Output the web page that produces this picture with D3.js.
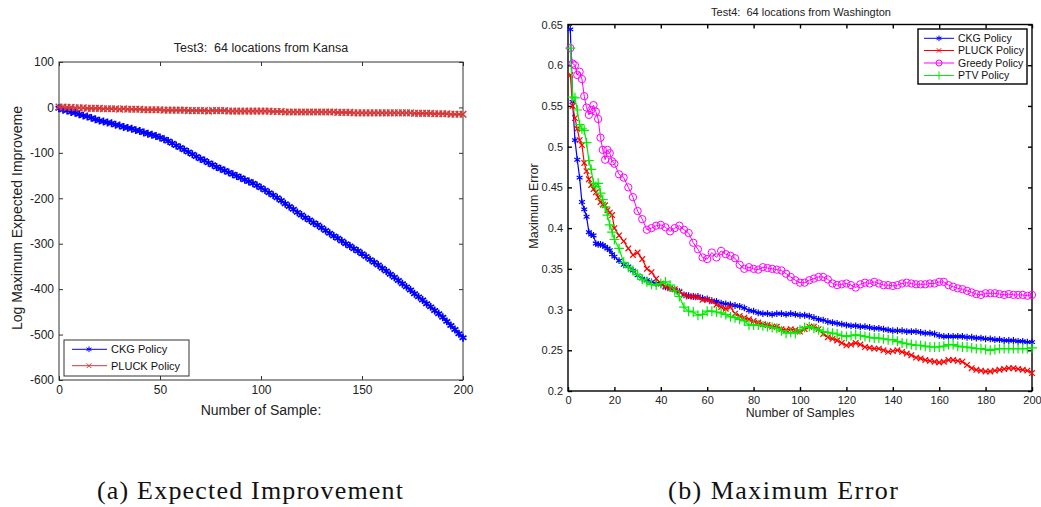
<!DOCTYPE html>
<html>
<head>
<meta charset="utf-8">
<script src="https://cdn.jsdelivr.net/npm/d3@7"></script>
<style>
  body { margin: 0; background: #fff; }
  svg { display: block; font-family: "Liberation Sans", Arial, sans-serif; }
</style>
</head>
<body>
<div id="chart"></div>
<script>
// (a) Test3: log maximum expected improvement, every 2nd sample
const leftSamples = d3.range(0, 201, 2);
const ckgLeft = [
  -2, -5, -7, -10, -12, -15, -18, -20, -23, -26,
  -29, -31, -33, -35, -38, -40, -43, -45, -47, -50,
  -52, -55, -58, -60, -63, -66, -70, -74, -79, -84,
  -88, -93, -98, -103, -108, -113, -117, -122, -126, -131,
  -135, -139, -143, -147, -151, -155, -159, -163, -167, -172,
  -177, -182, -188, -193, -199, -205, -212, -218, -224, -231,
  -237, -243, -248, -254, -259, -265, -271, -277, -283, -288,
  -294, -300, -305, -311, -316, -322, -328, -335, -341, -347,
  -354, -360, -367, -374, -381, -388, -395, -402, -410, -417,
  -424, -432, -439, -447, -454, -462, -471, -480, -489, -498,
  -507];
const pluckLeft = [
  1, 1, 0, 0, -1, -1, -1, -2, -2, -2,
  -2, -3, -3, -3, -3, -4, -3, -4, -4, -4,
  -4, -5, -5, -5, -5, -5, -6, -6, -6, -6,
  -6, -6, -7, -7, -7, -7, -7, -8, -7, -7,
  -7, -7, -8, -8, -8, -8, -8, -8, -8, -8,
  -8, -8, -8, -9, -9, -9, -10, -10, -10, -10,
  -10, -10, -10, -10, -10, -10, -10, -10, -10, -11,
  -11, -11, -11, -12, -12, -12, -12, -12, -12, -12,
  -12, -12, -12, -12, -12, -12, -12, -12, -13, -13,
  -13, -13, -13, -14, -14, -14, -14, -15, -15, -15,
  -15];

// (b) Test4: maximum error, samples 1..20 then every 2nd
const rightSamples = d3.range(1, 21).concat(d3.range(22, 201, 2));
const ckgRight = [
  0.644, 0.555, 0.508, 0.484, 0.462, 0.432, 0.423, 0.414, 0.395, 0.392,
  0.391, 0.381, 0.380, 0.380, 0.379, 0.377, 0.375, 0.373, 0.368, 0.365,
  0.360, 0.355, 0.353, 0.348, 0.342, 0.338, 0.336, 0.334, 0.332, 0.331,
  0.328, 0.326, 0.324, 0.322, 0.318, 0.317, 0.316, 0.316, 0.314, 0.313,
  0.311, 0.310, 0.308, 0.307, 0.306, 0.305, 0.304, 0.302, 0.299, 0.298,
  0.296, 0.295, 0.295, 0.294, 0.295, 0.295, 0.294, 0.295, 0.294, 0.293,
  0.293, 0.292, 0.290, 0.288, 0.287, 0.285, 0.284, 0.283, 0.282, 0.281,
  0.280, 0.280, 0.279, 0.279, 0.278, 0.277, 0.277, 0.276, 0.275, 0.274,
  0.274, 0.274, 0.273, 0.273, 0.273, 0.272, 0.271, 0.271, 0.270, 0.268,
  0.267, 0.267, 0.267, 0.267, 0.267, 0.266, 0.266, 0.265, 0.265, 0.264,
  0.264, 0.263, 0.263, 0.262, 0.262, 0.262, 0.261, 0.261, 0.260, 0.260];
const pluckRight = [
  0.588, 0.550, 0.535, 0.522, 0.508, 0.502, 0.480, 0.470, 0.460, 0.453,
  0.448, 0.444, 0.438, 0.432, 0.429, 0.428, 0.422, 0.419, 0.416, 0.400,
  0.391, 0.384, 0.375, 0.367, 0.370, 0.362, 0.350, 0.346, 0.338, 0.332,
  0.328, 0.326, 0.325, 0.322, 0.318, 0.316, 0.316, 0.315, 0.312, 0.312,
  0.310, 0.306, 0.303, 0.301, 0.303, 0.295, 0.292, 0.290, 0.288, 0.286,
  0.284, 0.282, 0.281, 0.279, 0.279, 0.276, 0.275, 0.276, 0.275, 0.273,
  0.276, 0.279, 0.279, 0.276, 0.270, 0.266, 0.264, 0.262, 0.259, 0.256,
  0.257, 0.259, 0.257, 0.254, 0.253, 0.252, 0.252, 0.250, 0.248, 0.249,
  0.250, 0.248, 0.246, 0.244, 0.241, 0.240, 0.238, 0.237, 0.236, 0.235,
  0.236, 0.238, 0.238, 0.237, 0.236, 0.232, 0.228, 0.226, 0.225, 0.224,
  0.224, 0.225, 0.226, 0.227, 0.228, 0.228, 0.227, 0.226, 0.225, 0.222];
const greedyRight = [
  0.621, 0.602, 0.600, 0.588, 0.592, 0.583, 0.562, 0.548, 0.539, 0.545,
  0.551, 0.543, 0.534, 0.511, 0.496, 0.484, 0.496, 0.492, 0.482, 0.479,
  0.466, 0.462, 0.450, 0.438, 0.421, 0.411, 0.398, 0.400, 0.403, 0.404,
  0.401, 0.396, 0.400, 0.403, 0.398, 0.394, 0.382, 0.374, 0.364, 0.362,
  0.370, 0.364, 0.372, 0.368, 0.366, 0.363, 0.355, 0.350, 0.352, 0.350,
  0.349, 0.352, 0.351, 0.350, 0.349, 0.348, 0.344, 0.340, 0.336, 0.333,
  0.333, 0.336, 0.338, 0.340, 0.340, 0.337, 0.332, 0.330, 0.331, 0.332,
  0.330, 0.327, 0.331, 0.333, 0.332, 0.334, 0.332, 0.330, 0.330, 0.329,
  0.330, 0.332, 0.333, 0.332, 0.331, 0.331, 0.331, 0.332, 0.332, 0.334,
  0.334, 0.330, 0.328, 0.326, 0.325, 0.323, 0.321, 0.319, 0.318, 0.320,
  0.320, 0.320, 0.319, 0.318, 0.319, 0.318, 0.318, 0.318, 0.317, 0.318];
const ptvRight = [
  0.621, 0.561, 0.560, 0.545, 0.527, 0.522, 0.520, 0.505, 0.483, 0.472,
  0.455, 0.451, 0.455, 0.443, 0.435, 0.426, 0.416, 0.404, 0.395, 0.386,
  0.375, 0.358, 0.352, 0.348, 0.343, 0.337, 0.334, 0.331, 0.330, 0.332,
  0.334, 0.330, 0.323, 0.316, 0.303, 0.298, 0.297, 0.293, 0.294, 0.298,
  0.298, 0.297, 0.296, 0.294, 0.291, 0.290, 0.288, 0.286, 0.281, 0.281,
  0.281, 0.280, 0.279, 0.278, 0.277, 0.274, 0.271, 0.272, 0.271, 0.275,
  0.278, 0.279, 0.277, 0.275, 0.273, 0.272, 0.271, 0.270, 0.268, 0.267,
  0.268, 0.269, 0.268, 0.267, 0.266, 0.265, 0.265, 0.264, 0.263, 0.263,
  0.261, 0.259, 0.258, 0.257, 0.256, 0.256, 0.255, 0.254, 0.254, 0.254,
  0.255, 0.257, 0.257, 0.255, 0.254, 0.254, 0.253, 0.252, 0.252, 0.251,
  0.250, 0.251, 0.252, 0.252, 0.252, 0.252, 0.252, 0.252, 0.252, 0.253];

const leftXTicks = [0, 50, 100, 150, 200];
const leftYTicks = [-600, -500, -400, -300, -200, -100, 0, 100];
const rightXTicks = [0, 20, 40, 60, 80, 100, 120, 140, 160, 180, 200];
const rightYTicks = [0.2, 0.25, 0.3, 0.35, 0.4, 0.45, 0.5, 0.55, 0.6, 0.65];

const svg = d3.select("#chart").append("svg")
  .attr("width", 1041)
  .attr("height", 507);

const xL = d3.scaleLinear().domain([0, 200]).range([59, 463]);
const yL = d3.scaleLinear().domain([-600, 100]).range([380, 62]);
const xR = d3.scaleLinear().domain([0, 200]).range([568, 1032]);
const yR = d3.scaleLinear().domain([0.2, 0.65]).range([391, 24.5]);

const symbols = { asterisk: d3.symbolAsterisk, x: d3.symbolX, circle: d3.symbolCircle, plus: d3.symbolPlus };
const font = "'Liberation Sans', Arial, sans-serif";

function drawAxes(x, y, xTicks, yTicks, fmtY, fontSize, stroke, lw) {
  const [x0, x1] = x.range(), [y0, y1] = y.range();
  const g = svg.append("g");
  g.append("g").attr("transform", `translate(0,${y0})`)
    .call(d3.axisBottom(x).tickValues(xTicks).tickSize(-4).tickPadding(5).tickFormat(d => String(d)));
  g.append("g").attr("transform", `translate(0,${y1})`)
    .call(d3.axisTop(x).tickValues(xTicks).tickSize(-4).tickFormat(""));
  g.append("g").attr("transform", `translate(${x0},0)`)
    .call(d3.axisLeft(y).tickValues(yTicks).tickSize(-4).tickPadding(5).tickFormat(fmtY));
  g.append("g").attr("transform", `translate(${x1},0)`)
    .call(d3.axisRight(y).tickValues(yTicks).tickSize(-4).tickFormat(""));
  g.selectAll("g").attr("font-family", font).attr("font-size", fontSize);
  g.selectAll(".domain").remove();
  g.selectAll(".tick line").attr("stroke", stroke).attr("stroke-width", lw);
  g.selectAll(".tick text").attr("fill", "#222");
  g.append("rect")
    .attr("x", x0).attr("y", y1)
    .attr("width", x1 - x0).attr("height", y0 - y1)
    .attr("fill", "none").attr("stroke", stroke).attr("stroke-width", lw);
}

function drawSeries(x, y, samples, values, color, type, size, lw) {
  const pts = samples.map((s, i) => [s, values[i]]);
  svg.append("path").datum(pts)
    .attr("fill", "none").attr("stroke", color).attr("stroke-width", lw)
    .attr("d", d3.line().x(d => x(d[0])).y(d => y(d[1])));
  svg.append("g").selectAll("path").data(pts).join("path")
    .attr("transform", d => `translate(${x(d[0])},${y(d[1])})`)
    .attr("d", d3.symbol(symbols[type], size))
    .attr("fill", "none").attr("stroke", color).attr("stroke-width", lw);
}

function drawLegend(box, rows, lineX, markX, textX, entries, fontSize, stroke, lw) {
  svg.append("rect")
    .attr("x", box[0]).attr("y", box[1]).attr("width", box[2]).attr("height", box[3])
    .attr("fill", "#fff").attr("stroke", stroke).attr("stroke-width", lw);
  entries.forEach((e, i) => {
    const yy = rows[i];
    svg.append("line").attr("x1", lineX[0]).attr("x2", lineX[1]).attr("y1", yy).attr("y2", yy)
      .attr("stroke", e.color).attr("stroke-width", 1);
    svg.append("path").attr("transform", `translate(${markX},${yy})`)
      .attr("d", d3.symbol(symbols[e.type], e.size))
      .attr("fill", "none").attr("stroke", e.color).attr("stroke-width", 1);
    svg.append("text").attr("x", textX).attr("y", yy).attr("dy", "0.35em")
      .attr("font-size", fontSize).attr("fill", "#111").text(e.label);
  });
}

// ---- (a) ----
drawAxes(xL, yL, leftXTicks, leftYTicks, d => String(d), 12, "#333", 1);
drawSeries(xL, yL, leftSamples, ckgLeft, "#0000ff", "asterisk", 44, 1.7);
drawSeries(xL, yL, leftSamples, pluckLeft, "#d43838", "x", 30, 1.5);

svg.append("text").attr("x", 261).attr("y", 52).attr("text-anchor", "middle")
  .attr("font-size", 12.5).attr("fill", "#222").style("white-space", "pre")
  .text("Test3:  64 locations from Kansa");
svg.append("text").attr("x", 261).attr("y", 415).attr("text-anchor", "middle")
  .attr("font-size", 14).attr("fill", "#222").text("Number of Sample:");
svg.append("text").attr("transform", "translate(22,218) rotate(-90)").attr("text-anchor", "middle")
  .attr("font-size", 14).attr("fill", "#222").text("Log Maximum Expected Improveme");

drawLegend([64, 340, 125, 36], [349.3, 365.7], [72, 107], 89, 111, [
  { label: "CKG Policy", color: "#0000ff", type: "asterisk", size: 22 },
  { label: "PLUCK Policy", color: "#d43838", type: "x", size: 16 }
], 11, "#333", 1);

// ---- (b) ----
drawAxes(xR, yR, rightXTicks, rightYTicks, d => String(+d.toFixed(2)), 11, "#000", 1.4);
drawSeries(xR, yR, rightSamples, ckgRight, "#0000ff", "asterisk", 32, 1.2);
drawSeries(xR, yR, rightSamples, pluckRight, "#ff0000", "x", 22, 1.2);
drawSeries(xR, yR, rightSamples, greedyRight, "#ff00ff", "circle", 42, 1);
drawSeries(xR, yR, rightSamples, ptvRight, "#00ee00", "plus", 34, 1.2);

svg.append("text").attr("x", 801).attr("y", 16).attr("text-anchor", "middle")
  .attr("font-size", 11).attr("fill", "#222").style("white-space", "pre")
  .text("Test4:  64 locations from Washington");
svg.append("text").attr("x", 800).attr("y", 417).attr("text-anchor", "middle")
  .attr("font-size", 12.3).attr("fill", "#222").text("Number of Samples");
svg.append("text").attr("transform", "translate(538,206) rotate(-90)").attr("text-anchor", "middle")
  .attr("font-size", 12.5).attr("fill", "#222").text("Maximum Error");

drawLegend([918, 29, 109, 55], [38.3, 50.5, 63, 75.5], [924, 954], 939, 958, [
  { label: "CKG Policy", color: "#0000ff", type: "asterisk", size: 22 },
  { label: "PLUCK Policy", color: "#ff0000", type: "x", size: 14 },
  { label: "Greedy Policy", color: "#ff00ff", type: "circle", size: 28 },
  { label: "PTV Policy", color: "#00ee00", type: "plus", size: 24 }
], 10.5, "#000", 1.4);

// captions
svg.append("text").attr("x", 250).attr("y", 499).attr("text-anchor", "middle")
  .attr("font-family", "'Liberation Serif', serif").attr("font-size", 26).attr("fill", "#111")
  .attr("textLength", 306).attr("lengthAdjust", "spacing")
  .text("(a) Expected Improvement");
svg.append("text").attr("x", 783).attr("y", 499).attr("text-anchor", "middle")
  .attr("font-family", "'Liberation Serif', serif").attr("font-size", 26).attr("fill", "#111")
  .attr("textLength", 230).attr("lengthAdjust", "spacing")
  .text("(b) Maximum Error");
</script>
</body>
</html>
